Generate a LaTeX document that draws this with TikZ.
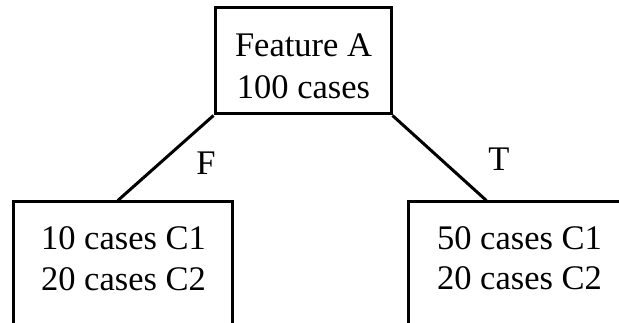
\documentclass[tikz,border=0pt]{standalone}
\usepackage{fontspec}
\setmainfont{Liberation Serif}
\usetikzlibrary{calc}
\begin{document}
\begin{tikzpicture}[x=1pt, y=-1pt, line width=3pt,
  box/.style={draw, rectangle, inner sep=0pt, line join=miter},
  txt/.style={font=\fontsize{34.5}{41}\selectfont, anchor=base, inner sep=0pt}]
\useasboundingbox (0,0) rectangle (619,323);
\clip (0,0) rectangle (619,323);

% decision node and the two leaves (leaves run past the lower edge)
\node[box, minimum width=176pt, minimum height=106pt] (A) at (303,61) {};
\node[box, minimum width=219pt, minimum height=158pt] (L) at (122.5,281) {};
\node[box, minimum width=242pt, minimum height=158pt] (R) at (529,281) {};

\node[txt] (a1) at (303.5,56.7) {Feature A};
\node[txt] (a2) at (303.5,98.3) {100 cases};
\node[txt] (l1) at (123.5,250) {10 cases C1};
\node[txt] (l2) at (123.5,291) {20 cases C2};
\node[txt] (r1) at (519.5,250) {50 cases C1};
\node[txt] (r2) at (519.5,290) {20 cases C2};

% branches
\coordinate (lj) at ($(L.north west)!0.479!(L.north east)$);
\coordinate (rj) at ($(R.north west)!0.326!(R.north east)$);
\draw (A.south west) -- (lj);
\draw (A.south east) -- (rj);

\node[txt] (f) at (206,175) {F};
\node[txt] (t) at (499,171) {T};
\end{tikzpicture}
\end{document}
